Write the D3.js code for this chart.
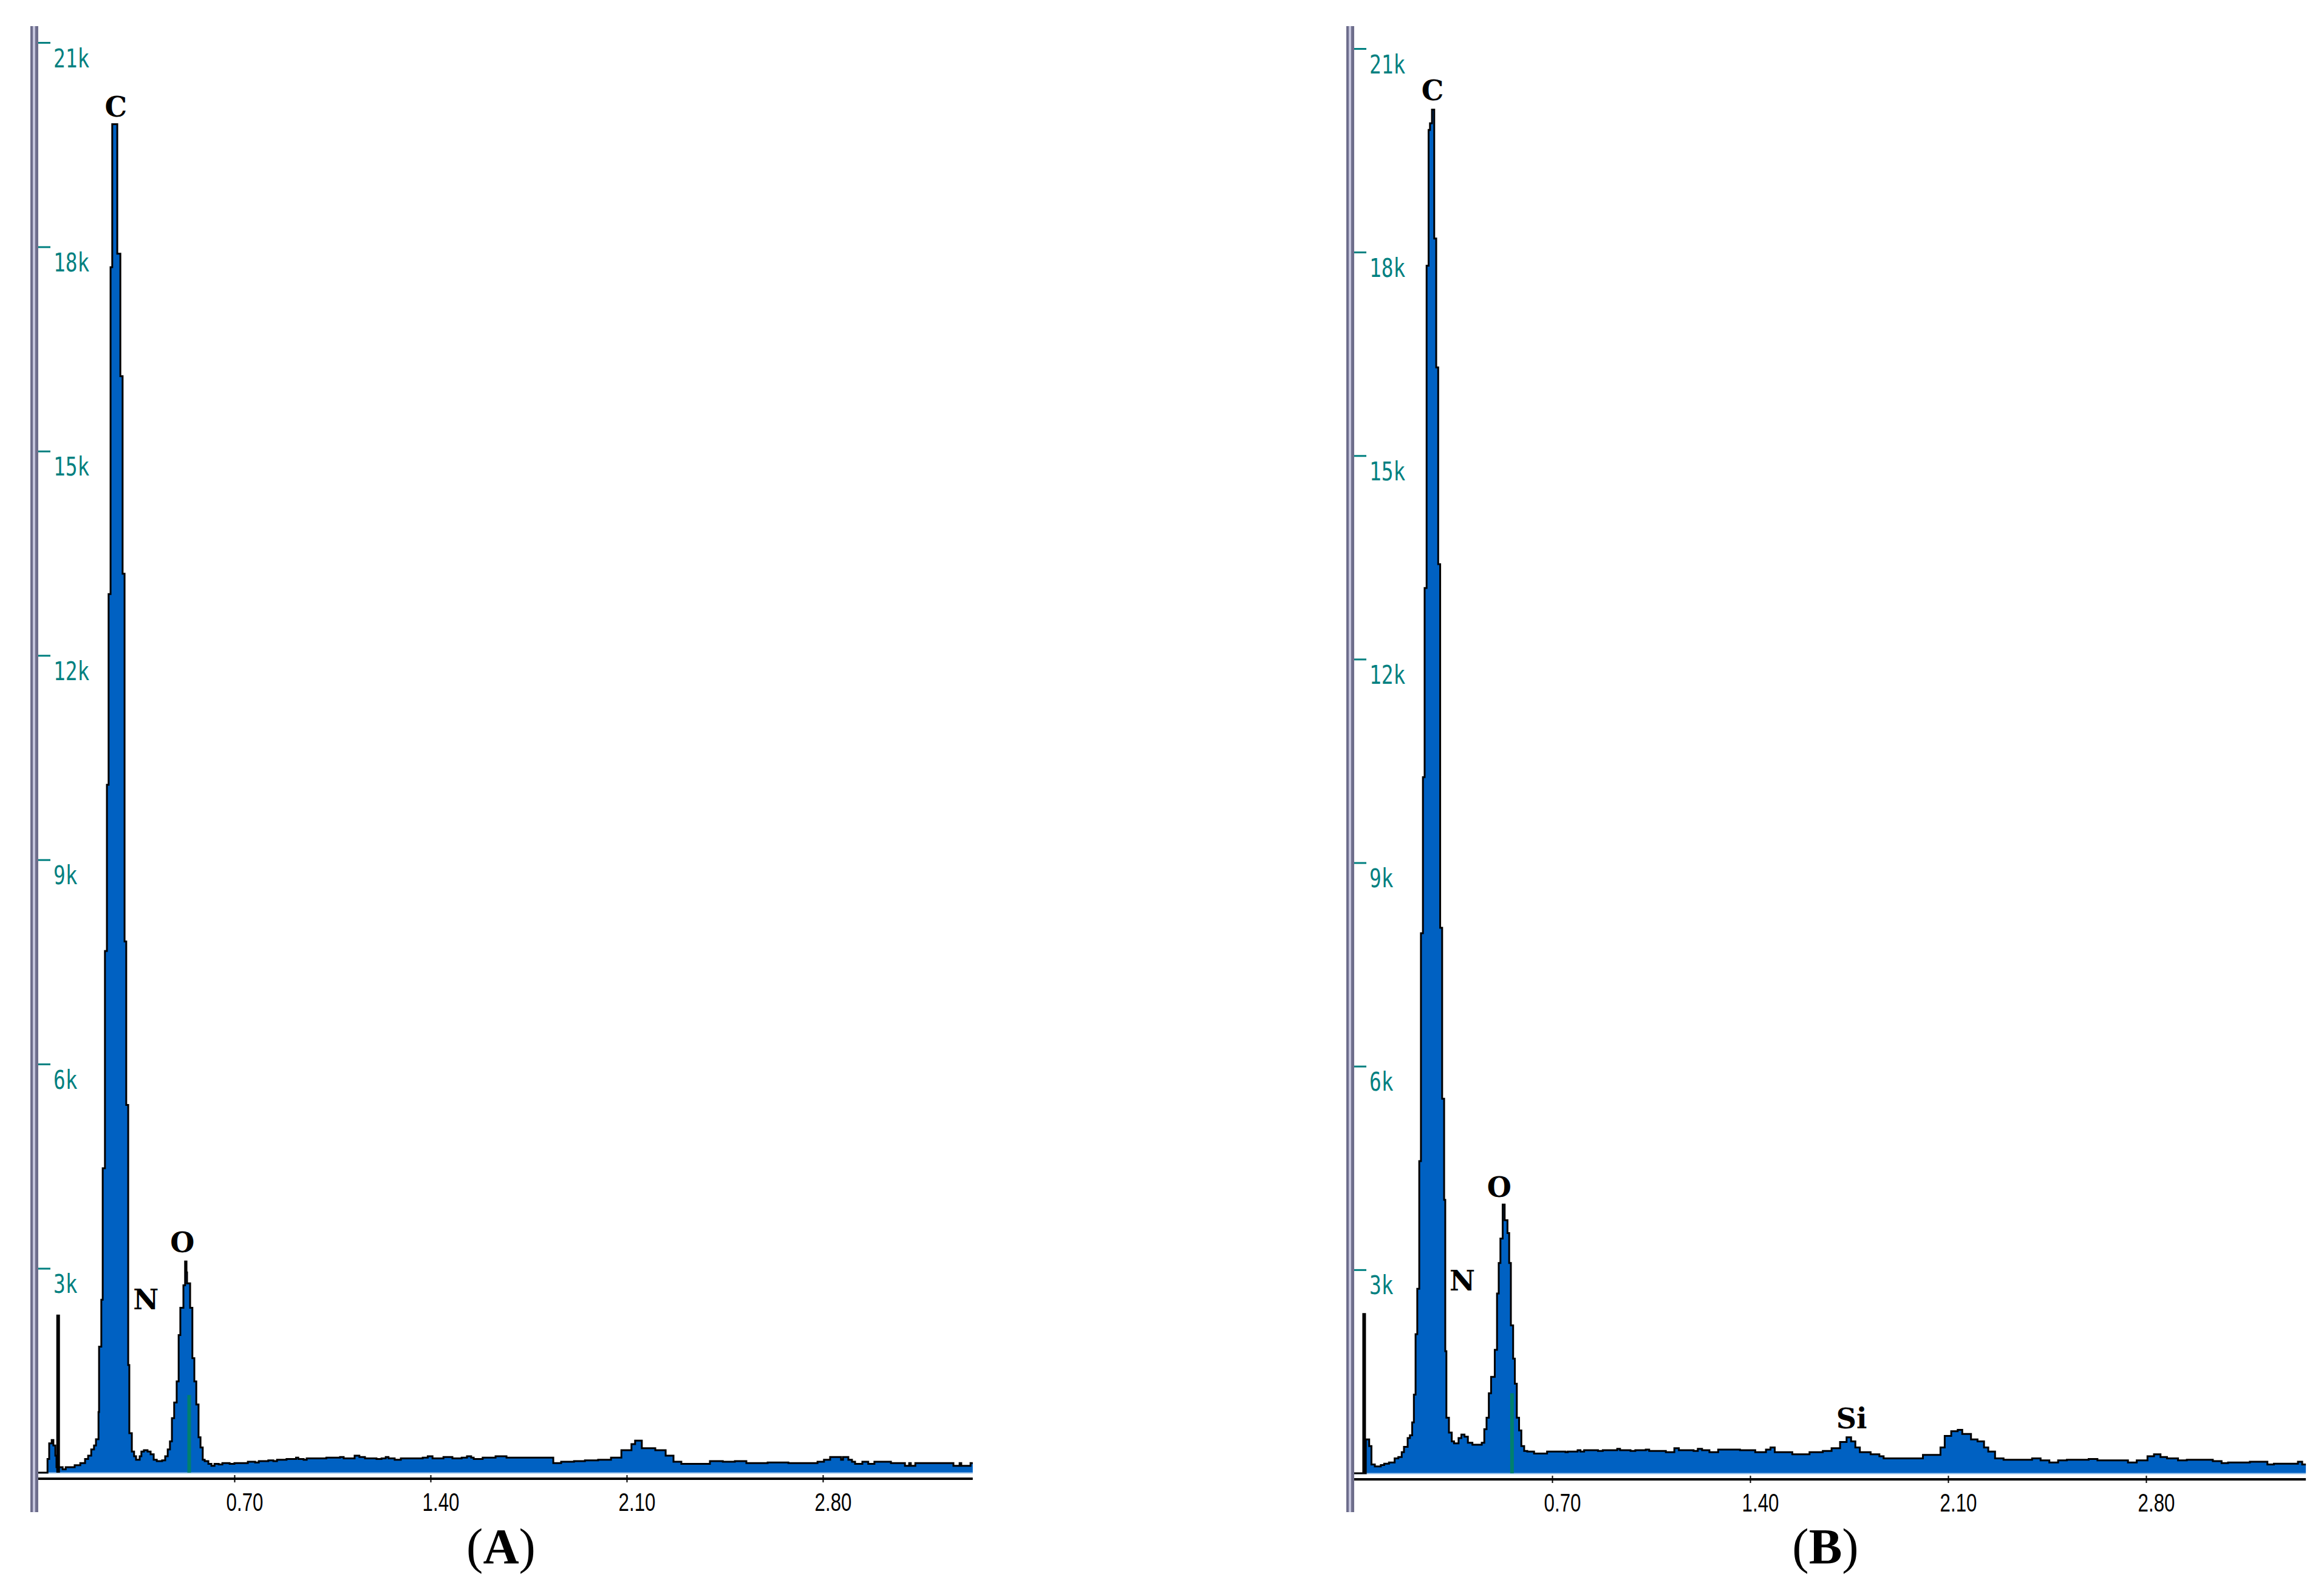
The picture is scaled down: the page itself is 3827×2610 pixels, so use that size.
<!DOCTYPE html>
<html>
<head>
<meta charset="utf-8">
<script src="https://cdn.jsdelivr.net/npm/d3@7"></script>
<style>
  html, body { margin: 0; padding: 0; background: #ffffff; }
  svg { display: block; }
</style>
</head>
<body>
<div id="chart"></div>
<script>
// EDS spectra, [energy keV, counts] at each step of the display
const spectrumA = [
  [0, 0], [0.033, 200], [0.039, 430], [0.048, 480], [0.054, 400], [0.061, 250],
  [0.065, 80], [0.087, 50], [0.098, 80], [0.130, 110], [0.150, 140], [0.167, 200],
  [0.178, 250], [0.189, 340], [0.199, 400], [0.206, 490], [0.215, 890], [0.217, 1850],
  [0.225, 2540], [0.230, 4470], [0.238, 7660], [0.245, 10100], [0.251, 12900], [0.258, 17700],
  [0.264, 19800], [0.282, 17900], [0.293, 16100], [0.301, 13200], [0.308, 7800], [0.314, 5400],
  [0.321, 1580], [0.325, 580], [0.334, 310], [0.342, 240], [0.349, 190], [0.362, 240],
  [0.368, 310], [0.377, 330], [0.390, 310], [0.401, 270], [0.412, 190], [0.423, 170],
  [0.442, 180], [0.453, 240], [0.462, 340], [0.470, 460], [0.477, 800], [0.485, 1030],
  [0.494, 1340], [0.501, 2020], [0.507, 2420], [0.518, 2750], [0.524, 3100], [0.529, 2940],
  [0.531, 2780], [0.542, 2420], [0.550, 1680], [0.557, 1340], [0.564, 1000], [0.572, 520],
  [0.579, 370], [0.587, 190], [0.594, 170], [0.607, 130], [0.618, 100], [0.629, 130],
  [0.644, 120], [0.657, 140], [0.683, 130], [0.700, 140], [0.748, 160], [0.774, 150],
  [0.787, 170], [0.821, 180], [0.839, 170], [0.852, 190], [0.886, 200], [0.920, 220],
  [0.928, 200], [0.947, 190], [0.958, 210], [1.028, 220], [1.077, 230], [1.090, 210],
  [1.110, 210], [1.129, 250], [1.146, 230], [1.166, 210], [1.207, 200], [1.225, 210],
  [1.240, 230], [1.250, 210], [1.272, 190], [1.294, 210], [1.372, 220], [1.390, 240],
  [1.407, 210], [1.446, 230], [1.478, 210], [1.511, 220], [1.530, 240], [1.545, 220],
  [1.554, 200], [1.586, 220], [1.632, 240], [1.671, 220], [1.838, 140], [1.866, 160],
  [1.912, 170], [1.951, 180], [1.998, 190], [2.044, 220], [2.081, 330], [2.117, 420],
  [2.130, 470], [2.154, 360], [2.202, 330], [2.239, 250], [2.267, 160], [2.295, 130],
  [2.397, 170], [2.443, 160], [2.486, 170], [2.527, 140], [2.603, 150], [2.677, 140],
  [2.781, 160], [2.804, 190], [2.826, 230], [2.865, 190], [2.872, 230], [2.891, 190],
  [2.904, 160], [2.915, 130], [2.941, 160], [2.962, 130], [2.984, 160], [3.043, 140],
  [3.093, 100], [3.108, 140], [3.114, 100], [3.130, 140], [3.266, 100], [3.288, 140],
  [3.294, 100], [3.327, 140], [3.335, 140]
];

const spectrumB = [
  [0, 0], [0.041, 500], [0.053, 400], [0.061, 130], [0.073, 100], [0.094, 120],
  [0.106, 140], [0.123, 160], [0.143, 220], [0.156, 240], [0.168, 310], [0.176, 390],
  [0.189, 520], [0.197, 560], [0.205, 750], [0.211, 1160], [0.217, 2050], [0.223, 2720],
  [0.230, 4600], [0.236, 7960], [0.243, 10260], [0.249, 13050], [0.256, 17800], [0.263, 19800],
  [0.268, 19900], [0.275, 20100], [0.283, 18200], [0.290, 16300], [0.297, 13400], [0.304, 8040],
  [0.311, 5520], [0.318, 4030], [0.322, 1800], [0.326, 820], [0.335, 600], [0.345, 470],
  [0.353, 440], [0.369, 520], [0.379, 570], [0.390, 540], [0.402, 450], [0.418, 420],
  [0.451, 450], [0.460, 650], [0.468, 820], [0.476, 1180], [0.484, 1420], [0.497, 1820],
  [0.505, 2650], [0.511, 3100], [0.517, 3460], [0.525, 3960], [0.532, 3730], [0.542, 3540],
  [0.548, 3100], [0.554, 2180], [0.562, 1690], [0.568, 1320], [0.575, 820], [0.583, 630],
  [0.591, 400], [0.601, 330], [0.612, 320], [0.636, 290], [0.682, 320], [0.747, 310],
  [0.755, 320], [0.790, 340], [0.800, 320], [0.813, 340], [0.862, 330], [0.879, 340],
  [0.930, 360], [0.940, 340], [0.977, 330], [0.994, 340], [1.031, 350], [1.043, 330],
  [1.102, 310], [1.132, 370], [1.148, 340], [1.200, 330], [1.215, 360], [1.230, 340],
  [1.256, 310], [1.287, 350], [1.364, 340], [1.418, 310], [1.456, 350], [1.472, 380],
  [1.487, 310], [1.549, 280], [1.610, 310], [1.657, 330], [1.688, 370], [1.718, 460],
  [1.741, 530], [1.757, 470], [1.772, 380], [1.788, 310], [1.826, 280], [1.857, 250],
  [1.872, 220], [2.011, 270], [2.073, 380], [2.088, 550], [2.111, 620], [2.134, 640],
  [2.150, 580], [2.181, 500], [2.204, 470], [2.227, 380], [2.242, 320], [2.266, 220],
  [2.296, 200], [2.397, 220], [2.427, 190], [2.458, 160], [2.489, 190], [2.520, 200],
  [2.597, 210], [2.628, 190], [2.736, 160], [2.767, 190], [2.805, 250], [2.828, 280],
  [2.851, 240], [2.874, 220], [2.913, 190], [2.944, 200], [3.036, 180], [3.067, 150],
  [3.090, 160], [3.167, 170], [3.229, 130], [3.252, 140], [3.337, 170], [3.352, 130],
  [3.365, 130]
];

// narrow black spike at the low-energy end
const strobeA = { energy: 0.0709, counts: 2320 };
const strobeB = { energy: 0.0352, counts: 2360 };

// green KLM marker inside the O peak
const markerA = { energy: 0.5386, counts: 1140 };
const markerB = { energy: 0.5580, counts: 1180 };

// element labels, placed at (energy, counts) of their baseline
const peaksA = [
  { label: "C", energy: 0.277, counts: 19910 },
  { label: "N", energy: 0.384, counts: 2400 },
  { label: "O", energy: 0.514, counts: 3240 }
];
const peaksB = [
  { label: "C", energy: 0.277, counts: 20240 },
  { label: "N", energy: 0.382, counts: 2690 },
  { label: "O", energy: 0.513, counts: 4070 },
  { label: "Si", energy: 1.759, counts: 660 }
];

const yTickValues = [3000, 6000, 9000, 12000, 15000, 18000, 21000];
const xTickValues = [0.70, 1.40, 2.10, 2.80];

const width = 3827, height = 2610;

const svg = d3.select("#chart").append("svg")
  .attr("width", width)
  .attr("height", height);

svg.append("rect").attr("width", width).attr("height", height).attr("fill", "#ffffff");

const panels = [
  { name: "A", spectrum: spectrumA, strobe: strobeA, marker: markerA, peaks: peaksA,
    x0: 63, x28: 1355, yZero: 2425, y21: 70, labelX: 825 },
  { name: "B", spectrum: spectrumB, strobe: strobeB, marker: markerB, peaks: peaksB,
    x0: 2230, x28: 3534, yZero: 2426, y21: 80, labelX: 3006 }
];

const blue = "#0061c2";
const teal = "#008080";

function drawPanel(p) {
  const x = d3.scaleLinear().domain([0, 2.8]).range([p.x0, p.x28]);
  const y = d3.scaleLinear().domain([0, 21000]).range([p.yZero, p.y21]);
  const eMax = p.spectrum[p.spectrum.length - 1][0];

  const g = svg.append("g").attr("id", "panel" + p.name);

  // filled spectrum
  const area = d3.area()
    .curve(d3.curveStepAfter)
    .x(d => x(d[0]))
    .y0(y(0))
    .y1(d => y(d[1]));

  g.append("path")
    .datum(p.spectrum)
    .attr("d", area)
    .attr("fill", blue);

  // light line under the fill
  g.append("line")
    .attr("x1", x(0)).attr("x2", x(eMax))
    .attr("y1", y(0) + 0.5).attr("y2", y(0) + 0.5)
    .attr("stroke", "#9cc4ec")
    .attr("stroke-width", 2);

  // marker line
  g.append("line")
    .attr("x1", x(p.marker.energy)).attr("x2", x(p.marker.energy))
    .attr("y1", y(0)).attr("y2", y(p.marker.counts))
    .attr("stroke", "#00806e")
    .attr("stroke-width", 6);

  // black outline on top of the spectrum
  const line = d3.line()
    .curve(d3.curveStepAfter)
    .x(d => x(d[0]))
    .y(d => y(d[1]));

  g.append("path")
    .datum(p.spectrum)
    .attr("d", line)
    .attr("fill", "none")
    .attr("stroke", "#000000")
    .attr("stroke-width", 3)
    .attr("stroke-linejoin", "miter");

  // strobe spike
  g.append("line")
    .attr("x1", x(p.strobe.energy)).attr("x2", x(p.strobe.energy))
    .attr("y1", y(0)).attr("y2", y(p.strobe.counts))
    .attr("stroke", "#000000")
    .attr("stroke-width", 6);

  // x axis
  const xAxis = d3.axisBottom(x)
    .tickValues(xTickValues)
    .tickFormat(d3.format(".2f"))
    .tickSize(6);

  const ax = g.append("g")
    .attr("transform", `translate(0,${p.yZero + 10})`)
    .call(xAxis);

  ax.select(".domain").remove();
  ax.insert("line", ":first-child")
    .attr("x1", x(0)).attr("x2", x(eMax))
    .attr("y1", 0).attr("y2", 0)
    .attr("stroke", "#000000")
    .attr("stroke-width", 4);
  ax.selectAll(".tick line")
    .attr("y1", -6).attr("y2", 6)
    .attr("stroke", "#000000")
    .attr("stroke-width", 2);
  ax.selectAll(".tick text")
    .attr("x", -14)
    .attr("y", 53)
    .attr("dy", null)
    .attr("text-anchor", "start")
    .attr("fill", "#000000")
    .attr("font-family", "Liberation Sans, Arial, sans-serif")
    .attr("font-size", 43)
    .attr("textLength", 61)
    .attr("lengthAdjust", "spacingAndGlyphs");

  // y axis: double bar
  const barTop = 43, barBottom = 2490;
  g.append("rect")
    .attr("x", x(0) - 13).attr("y", barTop)
    .attr("width", 13).attr("height", barBottom - barTop)
    .attr("fill", "#c4c4dc");
  g.append("rect")
    .attr("x", x(0) - 13).attr("y", barTop)
    .attr("width", 4).attr("height", barBottom - barTop)
    .attr("fill", "#6e6e8c");
  g.append("rect")
    .attr("x", x(0) - 5).attr("y", barTop)
    .attr("width", 5).attr("height", barBottom - barTop)
    .attr("fill", "#6e6e8c");

  const yAxis = d3.axisRight(y)
    .tickValues(yTickValues)
    .tickFormat(d => d / 1000 + "k")
    .tickSize(20);

  const ay = g.append("g")
    .attr("transform", `translate(${x(0)},0)`)
    .call(yAxis);

  ay.select(".domain").remove();
  ay.selectAll(".tick line")
    .attr("stroke", teal)
    .attr("stroke-width", 3);
  ay.selectAll(".tick text")
    .attr("x", 25)
    .attr("y", 40)
    .attr("dy", null)
    .attr("text-anchor", "start")
    .attr("fill", teal)
    .attr("font-family", "DejaVu Sans Mono, monospace")
    .attr("font-size", 42)
    .attr("textLength", d => (d / 1000 + "k").length * 19.7)
    .attr("lengthAdjust", "spacingAndGlyphs");

  // element labels
  g.selectAll("text.peak")
    .data(p.peaks)
    .join("text")
    .attr("class", "peak")
    .attr("x", d => x(d.energy))
    .attr("y", d => y(d.counts))
    .attr("text-anchor", "middle")
    .attr("font-family", "DejaVu Serif, serif")
    .attr("font-weight", "bold")
    .attr("font-size", 46)
    .attr("fill", "#000000")
    .text(d => d.label);

  // panel letter
  const t = g.append("text")
    .attr("x", p.labelX)
    .attr("y", 2574)
    .attr("text-anchor", "middle")
    .attr("font-family", "Liberation Serif, Times New Roman, serif")
    .attr("font-size", 82)
    .attr("fill", "#000000");
  t.append("tspan").text("(");
  t.append("tspan").attr("font-weight", "bold").text(p.name);
  t.append("tspan").text(")");
}

panels.forEach(drawPanel);
</script>
</body>
</html>
